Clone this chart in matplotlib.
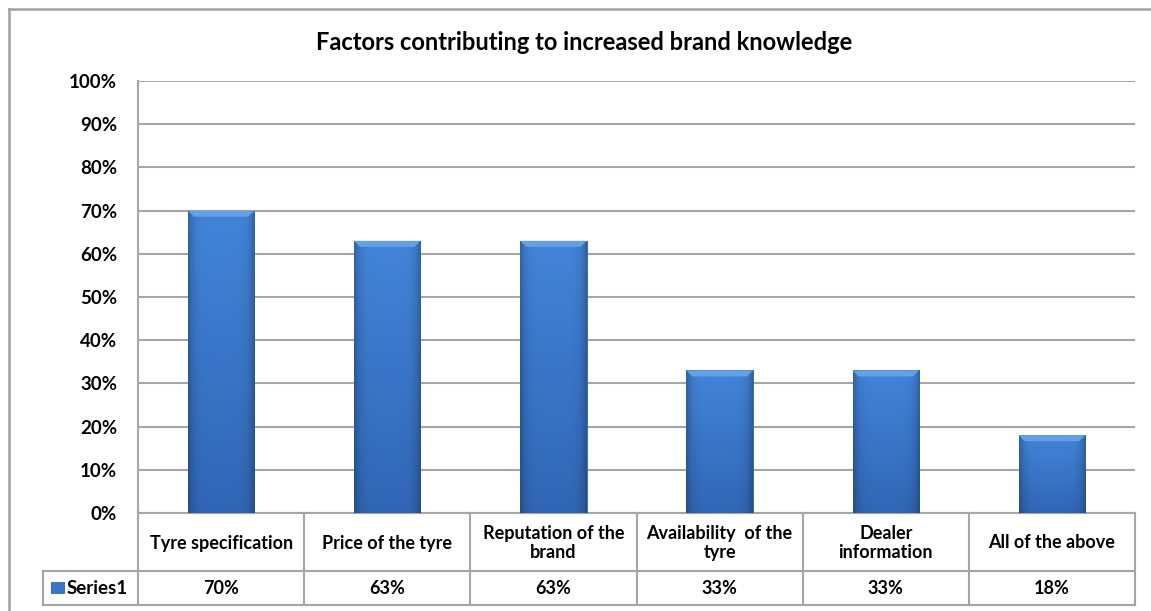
import numpy as np
import matplotlib
matplotlib.use("Agg")
import matplotlib.pyplot as plt
from matplotlib.patches import Polygon, Rectangle
from matplotlib.lines import Line2D

plt.rcParams['font.family'] = ['Lato', 'DejaVu Sans']

title = "Factors contributing to increased brand knowledge"
categories = ["Tyre specification", "Price of the tyre", "Reputation of the\nbrand",
              "Availability  of the\ntyre", "Dealer\ninformation", "All of the above"]
series_name = "Series1"
values = [70, 63, 63, 33, 33, 18]
yticks = [0, 10, 20, 30, 40, 50, 60, 70, 80, 90, 100]

W, H = 1151, 611
fig = plt.figure(figsize=(W / 100, H / 100), dpi=100)
fig.patch.set_facecolor("white")

# plot area in pixel terms
left_px, right_px, top_px, base_px = 138, 1135, 81, 513
ax = fig.add_axes([left_px / W, (H - base_px) / H,
                   (right_px - left_px) / W, (base_px - top_px) / H])

grid_col = "#A6A6A6"
ax.set_xlim(-0.5, len(categories) - 0.5)
ax.set_ylim(0, 100)
ax.set_yticks(yticks)
ax.set_yticklabels([f"{t}%" for t in yticks], fontsize=13.5, fontweight="bold")
ax.tick_params(axis="y", length=0, pad=15)
ax.set_xticks([])
ax.yaxis.grid(True, color=grid_col, linewidth=1.5)
ax.set_axisbelow(True)
for s in ["top", "right"]:
    ax.spines[s].set_visible(False)
for s in ["left", "bottom"]:
    ax.spines[s].set_color(grid_col)
    ax.spines[s].set_linewidth(1.5)

x = np.arange(len(categories))
bars = ax.bar(x, values, width=0.4, color="#3A77CB", zorder=3)

# bevelled gradient fill for each bar
nx = 60
u = np.linspace(-1, 1, nx)
horiz = 1 - 0.25 * np.abs(u) ** 6
ny = 200
v = np.linspace(1, 0, ny)[:, None]
top_c = np.array([0.26, 0.52, 0.85])
bot_c = np.array([0.19, 0.40, 0.71])
grad = (bot_c + (top_c - bot_c) * v[..., None]) * horiz[None, :, None]
grad = np.clip(grad, 0, 1)

px_per_x = (right_px - left_px) / len(categories)
px_per_y = (base_px - top_px) / 100
for b in bars:
    bx, bw, bh = b.get_x(), b.get_width(), b.get_height()
    im = ax.imshow(grad, extent=[bx, bx + bw, 0, bh], aspect="auto",
                   origin="upper", zorder=3.1, interpolation="bilinear")
    im.set_clip_path(b)
    dx = 6 / px_per_x
    dy = 6 / px_per_y
    bevel = Polygon([(bx, bh), (bx + bw, bh), (bx + bw - dx, bh - dy), (bx + dx, bh - dy)],
                    closed=True, facecolor="#63A0E6", edgecolor="none", zorder=3.2)
    ax.add_patch(bevel)
    b.set_edgecolor("#2E62A8")
    b.set_linewidth(0.6)

ax.set_xlim(-0.5, len(categories) - 0.5)
ax.set_ylim(0, 100)

# data table beneath the plot
row1_px, row2_px = 571, 605
key_left_px = 43


def fy(py):
    return (H - py) / H


def fx(px):
    return px / W


tbl_col = "#A6A6A6"
lines = [
    ((key_left_px, right_px), (row1_px, row1_px)),
    ((key_left_px, right_px), (row2_px, row2_px)),
    ((key_left_px, key_left_px), (row1_px, row2_px)),
]
for i in range(len(categories) + 1):
    xp = left_px + i * px_per_x
    lines.append(((xp, xp), (base_px, row2_px)))
for (xs, ys) in lines:
    fig.add_artist(Line2D([fx(xs[0]), fx(xs[1])], [fy(ys[0]), fy(ys[1])],
                          color=tbl_col, linewidth=1.5))

for i, (cat, val) in enumerate(zip(categories, values)):
    cx = left_px + (i + 0.5) * px_per_x
    fig.text(fx(cx), fy((base_px + row1_px) / 2 + 1), cat, ha="center", va="center",
             fontsize=13, fontweight="bold", linespacing=1.08)
    fig.text(fx(cx), fy((row1_px + row2_px) / 2), f"{val}%", ha="center", va="center",
             fontsize=13, fontweight="bold")

# legend key and series name
fig.add_artist(Rectangle((fx(51), fy(593)), 13 / W, 11 / H, transform=fig.transFigure,
                         facecolor="#3A77CB", edgecolor="#2E62A8", linewidth=0.6))
fig.text(fx(67), fy((row1_px + row2_px) / 2), series_name, ha="left", va="center",
         fontsize=13.5, fontweight="bold")

# chart title
fig.text(fx(584), fy(43), title, ha="center", va="center", fontsize=17, fontweight="bold")

# chart area border
border_col = "#A0A0A0"
fig.add_artist(Line2D([fx(9), 1], [fy(9), fy(9)], color=border_col, linewidth=1.8))
fig.add_artist(Line2D([fx(9), fx(9)], [fy(9), 0], color=border_col, linewidth=1.8))

fig.savefig("out.png", dpi=100, facecolor="white")
